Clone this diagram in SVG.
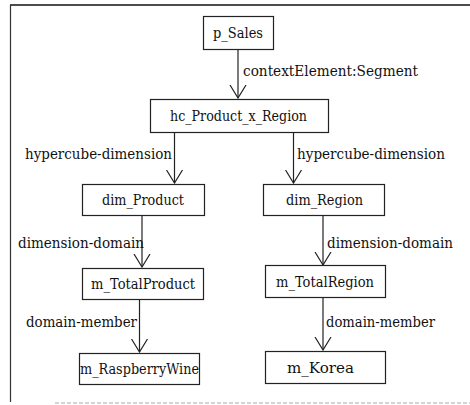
<svg xmlns="http://www.w3.org/2000/svg" width="470" height="405" viewBox="0 0 470 405">
<defs>
<style>
.box{fill:#fff;stroke:#222;stroke-width:1.2}
.t{font-family:'DejaVu Serif',serif;font-size:14px;fill:#111}
.e{stroke:#222;stroke-width:1.2;fill:none}
</style>
<marker id="v" viewBox="0 0 14 18" refX="13" refY="9" markerWidth="14" markerHeight="18" markerUnits="userSpaceOnUse" orient="auto">
<path d="M0,1 L13,9 L0,17" fill="none" stroke="#222" stroke-width="1.2"/>
</marker>
</defs>
<rect width="470" height="405" fill="#fff"/>
<g id="frame">
<line x1="10" y1="5" x2="470" y2="5" stroke="#111" stroke-width="1.6"/>
<line x1="10.5" y1="5" x2="10.5" y2="402" stroke="#333" stroke-width="1.2"/>
<line x1="55" y1="403" x2="470" y2="403" stroke="#aaa" stroke-width="1" stroke-dasharray="4,2"/>
</g>
<g id="connectors">
<line class="e" x1="238" y1="50" x2="238" y2="98" marker-end="url(#v)"/>
<line class="e" x1="174.5" y1="133" x2="174.5" y2="183" marker-end="url(#v)"/>
<line class="e" x1="293.5" y1="133" x2="293.5" y2="183" marker-end="url(#v)"/>
<line class="e" x1="142" y1="216" x2="142" y2="267" marker-end="url(#v)"/>
<line class="e" x1="323" y1="216" x2="323" y2="265" marker-end="url(#v)"/>
<line class="e" x1="139.5" y1="300" x2="139.5" y2="352" marker-end="url(#v)"/>
<line class="e" x1="323" y1="298" x2="323" y2="350" marker-end="url(#v)"/>
<text class="t" x="243" y="76" textLength="175" lengthAdjust="spacingAndGlyphs">contextElement:Segment</text>
<text class="t" x="25" y="159" textLength="147" lengthAdjust="spacingAndGlyphs">hypercube-dimension</text>
<text class="t" x="297" y="159" textLength="148" lengthAdjust="spacingAndGlyphs">hypercube-dimension</text>
<text class="t" x="18" y="248" textLength="126" lengthAdjust="spacingAndGlyphs">dimension-domain</text>
<text class="t" x="327" y="248" textLength="126" lengthAdjust="spacingAndGlyphs">dimension-domain</text>
<text class="t" x="26" y="327" textLength="111" lengthAdjust="spacingAndGlyphs">domain-member</text>
<text class="t" x="326" y="327" textLength="109" lengthAdjust="spacingAndGlyphs">domain-member</text>
</g>
<g id="p_Sales">
<rect class="box" x="203.5" y="16.5" width="70" height="33"/>
<text class="t" x="213" y="38" textLength="50" lengthAdjust="spacingAndGlyphs">p_Sales</text>
</g>
<g id="hc_Product_x_Region">
<rect class="box" x="150.5" y="99.5" width="178" height="33"/>
<text class="t" x="170" y="121" textLength="137" lengthAdjust="spacingAndGlyphs">hc_Product_x_Region</text>
</g>
<g id="dim_Product">
<rect class="box" x="82.5" y="184.5" width="122" height="31"/>
<text class="t" x="102" y="205" textLength="82" lengthAdjust="spacingAndGlyphs">dim_Product</text>
</g>
<g id="dim_Region">
<rect class="box" x="263.5" y="184.5" width="121" height="31"/>
<text class="t" x="286" y="205" textLength="77" lengthAdjust="spacingAndGlyphs">dim_Region</text>
</g>
<g id="m_TotalProduct">
<rect class="box" x="82.5" y="268.5" width="121" height="31"/>
<text class="t" x="91" y="289" textLength="104" lengthAdjust="spacingAndGlyphs">m_TotalProduct</text>
</g>
<g id="m_TotalRegion">
<rect class="box" x="265.5" y="265.5" width="120" height="32"/>
<text class="t" x="276" y="287" textLength="98" lengthAdjust="spacingAndGlyphs">m_TotalRegion</text>
</g>
<g id="m_RaspberryWine">
<rect class="box" x="79.5" y="353.5" width="120" height="31"/>
<text class="t" x="80" y="374" textLength="119" lengthAdjust="spacingAndGlyphs">m_RaspberryWine</text>
</g>
<g id="m_Korea">
<rect class="box" x="265.5" y="351.5" width="120" height="32"/>
<text class="t" x="287" y="373" textLength="67" lengthAdjust="spacingAndGlyphs">m_Korea</text>
</g>
</svg>
